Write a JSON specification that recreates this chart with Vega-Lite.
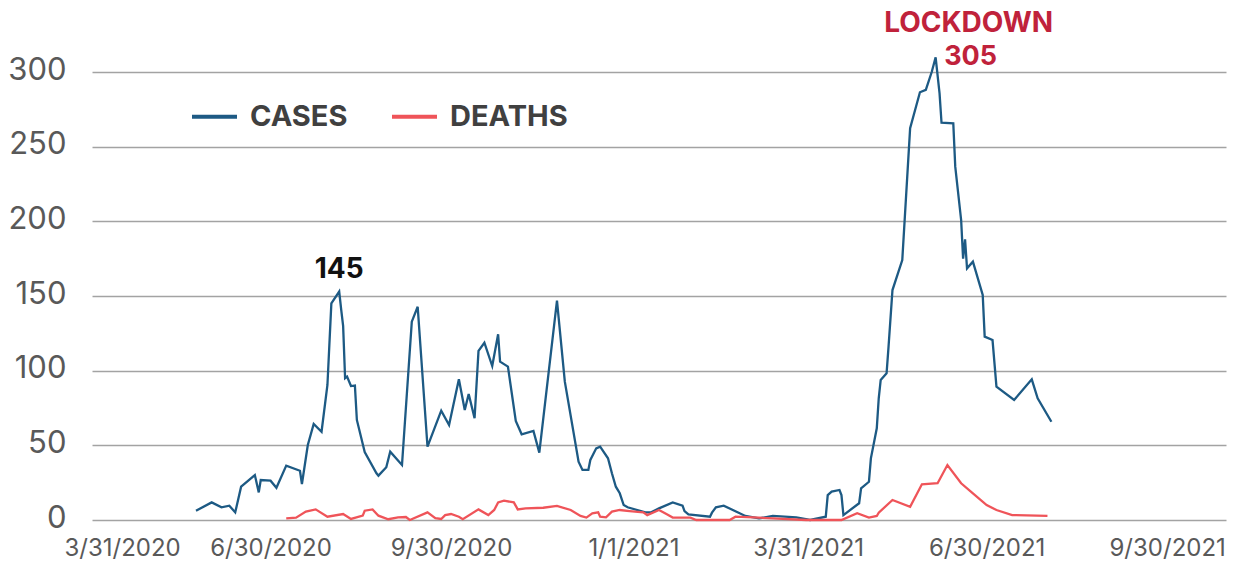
{
  "$schema": "https://vega.github.io/schema/vega-lite/v6.json",
  "width": 1134,
  "height": 448,
  "autosize": "none",
  "padding": {"left": 92, "top": 72, "right": 7, "bottom": 46},
  "background": "white",
  "config": {
    "view": {"stroke": null},
    "font": "Inter",
    "axis": {"labelFont": "Inter", "labelColor": "#595959", "gridColor": "#a3a3a3", "gridWidth": 1.4, "domain": false, "ticks": false, "title": null}
  },
  "datasets": {
    "series": [
      {"date": "2020-05-23", "series": "CASES", "value": 6.2},
      {"date": "2020-05-31", "series": "CASES", "value": 11.8},
      {"date": "2020-06-05", "series": "CASES", "value": 8.5},
      {"date": "2020-06-09", "series": "CASES", "value": 9.6},
      {"date": "2020-06-12", "series": "CASES", "value": 5.1},
      {"date": "2020-06-15", "series": "CASES", "value": 22.3},
      {"date": "2020-06-22", "series": "CASES", "value": 30.1},
      {"date": "2020-06-24", "series": "CASES", "value": 18.5},
      {"date": "2020-06-25", "series": "CASES", "value": 26.8},
      {"date": "2020-06-30", "series": "CASES", "value": 26.3},
      {"date": "2020-07-03", "series": "CASES", "value": 21.6},
      {"date": "2020-07-08", "series": "CASES", "value": 36.4},
      {"date": "2020-07-15", "series": "CASES", "value": 33},
      {"date": "2020-07-16", "series": "CASES", "value": 24.1},
      {"date": "2020-07-19", "series": "CASES", "value": 50.2},
      {"date": "2020-07-22", "series": "CASES", "value": 64.3},
      {"date": "2020-07-26", "series": "CASES", "value": 59.1},
      {"date": "2020-07-29", "series": "CASES", "value": 90.4},
      {"date": "2020-07-31", "series": "CASES", "value": 145},
      {"date": "2020-08-04", "series": "CASES", "value": 153},
      {"date": "2020-08-05", "series": "CASES", "value": 141},
      {"date": "2020-08-06", "series": "CASES", "value": 130},
      {"date": "2020-08-07", "series": "CASES", "value": 95},
      {"date": "2020-08-08", "series": "CASES", "value": 96},
      {"date": "2020-08-10", "series": "CASES", "value": 89.7},
      {"date": "2020-08-12", "series": "CASES", "value": 90},
      {"date": "2020-08-13", "series": "CASES", "value": 67},
      {"date": "2020-08-17", "series": "CASES", "value": 45.5},
      {"date": "2020-08-23", "series": "CASES", "value": 31.3},
      {"date": "2020-08-24", "series": "CASES", "value": 29.7},
      {"date": "2020-08-28", "series": "CASES", "value": 35.3},
      {"date": "2020-08-30", "series": "CASES", "value": 45.7},
      {"date": "2020-09-05", "series": "CASES", "value": 36.8},
      {"date": "2020-09-10", "series": "CASES", "value": 132.8},
      {"date": "2020-09-13", "series": "CASES", "value": 142.8},
      {"date": "2020-09-18", "series": "CASES", "value": 49.1},
      {"date": "2020-09-25", "series": "CASES", "value": 73.2},
      {"date": "2020-09-29", "series": "CASES", "value": 63.6},
      {"date": "2020-10-04", "series": "CASES", "value": 94.2},
      {"date": "2020-10-07", "series": "CASES", "value": 73.7},
      {"date": "2020-10-09", "series": "CASES", "value": 84.4},
      {"date": "2020-10-12", "series": "CASES", "value": 68.1},
      {"date": "2020-10-14", "series": "CASES", "value": 113.2},
      {"date": "2020-10-17", "series": "CASES", "value": 118.7},
      {"date": "2020-10-21", "series": "CASES", "value": 103.1},
      {"date": "2020-10-24", "series": "CASES", "value": 124.4},
      {"date": "2020-10-25", "series": "CASES", "value": 106},
      {"date": "2020-10-29", "series": "CASES", "value": 102.7},
      {"date": "2020-11-02", "series": "CASES", "value": 66.3},
      {"date": "2020-11-05", "series": "CASES", "value": 57.4},
      {"date": "2020-11-11", "series": "CASES", "value": 59.6},
      {"date": "2020-11-14", "series": "CASES", "value": 45.1},
      {"date": "2020-11-23", "series": "CASES", "value": 146.9},
      {"date": "2020-11-27", "series": "CASES", "value": 92.6},
      {"date": "2020-12-04", "series": "CASES", "value": 39},
      {"date": "2020-12-06", "series": "CASES", "value": 33.5},
      {"date": "2020-12-09", "series": "CASES", "value": 33.5},
      {"date": "2020-12-10", "series": "CASES", "value": 40.2},
      {"date": "2020-12-13", "series": "CASES", "value": 48},
      {"date": "2020-12-15", "series": "CASES", "value": 49.1},
      {"date": "2020-12-19", "series": "CASES", "value": 41.3},
      {"date": "2020-12-21", "series": "CASES", "value": 31.3},
      {"date": "2020-12-23", "series": "CASES", "value": 22.3},
      {"date": "2020-12-25", "series": "CASES", "value": 17.9},
      {"date": "2020-12-27", "series": "CASES", "value": 10},
      {"date": "2020-12-29", "series": "CASES", "value": 8.5},
      {"date": "2021-01-07", "series": "CASES", "value": 5.1},
      {"date": "2021-01-10", "series": "CASES", "value": 5.1},
      {"date": "2021-01-14", "series": "CASES", "value": 7.8},
      {"date": "2021-01-21", "series": "CASES", "value": 11.8},
      {"date": "2021-01-26", "series": "CASES", "value": 9.6},
      {"date": "2021-01-27", "series": "CASES", "value": 6},
      {"date": "2021-01-29", "series": "CASES", "value": 3.8},
      {"date": "2021-02-09", "series": "CASES", "value": 2.2},
      {"date": "2021-02-10", "series": "CASES", "value": 4.9},
      {"date": "2021-02-12", "series": "CASES", "value": 8.5},
      {"date": "2021-02-16", "series": "CASES", "value": 9.6},
      {"date": "2021-02-27", "series": "CASES", "value": 2.7},
      {"date": "2021-03-06", "series": "CASES", "value": 1.1},
      {"date": "2021-03-13", "series": "CASES", "value": 2.7},
      {"date": "2021-03-25", "series": "CASES", "value": 1.8},
      {"date": "2021-04-01", "series": "CASES", "value": 0},
      {"date": "2021-04-09", "series": "CASES", "value": 2.2},
      {"date": "2021-04-10", "series": "CASES", "value": 16.7},
      {"date": "2021-04-12", "series": "CASES", "value": 19},
      {"date": "2021-04-16", "series": "CASES", "value": 20.1},
      {"date": "2021-04-17", "series": "CASES", "value": 16.7},
      {"date": "2021-04-18", "series": "CASES", "value": 3.3},
      {"date": "2021-04-26", "series": "CASES", "value": 11.2},
      {"date": "2021-04-27", "series": "CASES", "value": 21.2},
      {"date": "2021-05-01", "series": "CASES", "value": 25.6},
      {"date": "2021-05-02", "series": "CASES", "value": 41.3},
      {"date": "2021-05-05", "series": "CASES", "value": 61.4},
      {"date": "2021-05-06", "series": "CASES", "value": 81.5},
      {"date": "2021-05-07", "series": "CASES", "value": 93.8},
      {"date": "2021-05-10", "series": "CASES", "value": 98.2},
      {"date": "2021-05-11", "series": "CASES", "value": 116.1},
      {"date": "2021-05-13", "series": "CASES", "value": 154},
      {"date": "2021-05-18", "series": "CASES", "value": 174.1},
      {"date": "2021-05-22", "series": "CASES", "value": 262.3},
      {"date": "2021-05-27", "series": "CASES", "value": 286.4},
      {"date": "2021-05-30", "series": "CASES", "value": 288},
      {"date": "2021-06-02", "series": "CASES", "value": 300},
      {"date": "2021-06-04", "series": "CASES", "value": 309.8},
      {"date": "2021-06-06", "series": "CASES", "value": 285.7},
      {"date": "2021-06-07", "series": "CASES", "value": 266},
      {"date": "2021-06-13", "series": "CASES", "value": 265.6},
      {"date": "2021-06-14", "series": "CASES", "value": 236.6},
      {"date": "2021-06-17", "series": "CASES", "value": 200.9},
      {"date": "2021-06-18", "series": "CASES", "value": 175},
      {"date": "2021-06-19", "series": "CASES", "value": 188},
      {"date": "2021-06-20", "series": "CASES", "value": 168.5},
      {"date": "2021-06-23", "series": "CASES", "value": 173},
      {"date": "2021-06-28", "series": "CASES", "value": 150.7},
      {"date": "2021-06-29", "series": "CASES", "value": 122.8},
      {"date": "2021-07-03", "series": "CASES", "value": 120.5},
      {"date": "2021-07-05", "series": "CASES", "value": 89.3},
      {"date": "2021-07-14", "series": "CASES", "value": 80.4},
      {"date": "2021-07-23", "series": "CASES", "value": 94.2},
      {"date": "2021-07-26", "series": "CASES", "value": 81.5},
      {"date": "2021-08-02", "series": "CASES", "value": 65.8},
      {"date": "2020-07-08", "series": "DEATHS", "value": 1.1},
      {"date": "2020-07-13", "series": "DEATHS", "value": 1.6},
      {"date": "2020-07-18", "series": "DEATHS", "value": 5.6},
      {"date": "2020-07-23", "series": "DEATHS", "value": 7.1},
      {"date": "2020-07-29", "series": "DEATHS", "value": 2.2},
      {"date": "2020-08-06", "series": "DEATHS", "value": 4},
      {"date": "2020-08-10", "series": "DEATHS", "value": 0.7},
      {"date": "2020-08-16", "series": "DEATHS", "value": 2.9},
      {"date": "2020-08-17", "series": "DEATHS", "value": 6.2},
      {"date": "2020-08-21", "series": "DEATHS", "value": 7.1},
      {"date": "2020-08-24", "series": "DEATHS", "value": 2.9},
      {"date": "2020-08-29", "series": "DEATHS", "value": 0.5},
      {"date": "2020-09-03", "series": "DEATHS", "value": 1.8},
      {"date": "2020-09-07", "series": "DEATHS", "value": 2},
      {"date": "2020-09-09", "series": "DEATHS", "value": 0},
      {"date": "2020-09-18", "series": "DEATHS", "value": 5.1},
      {"date": "2020-09-22", "series": "DEATHS", "value": 1.3},
      {"date": "2020-09-25", "series": "DEATHS", "value": 0.7},
      {"date": "2020-09-27", "series": "DEATHS", "value": 3.3},
      {"date": "2020-09-30", "series": "DEATHS", "value": 4},
      {"date": "2020-10-04", "series": "DEATHS", "value": 2.2},
      {"date": "2020-10-06", "series": "DEATHS", "value": 0.5},
      {"date": "2020-10-14", "series": "DEATHS", "value": 7.1},
      {"date": "2020-10-19", "series": "DEATHS", "value": 3.3},
      {"date": "2020-10-22", "series": "DEATHS", "value": 6.7},
      {"date": "2020-10-24", "series": "DEATHS", "value": 11.8},
      {"date": "2020-10-27", "series": "DEATHS", "value": 12.9},
      {"date": "2020-11-01", "series": "DEATHS", "value": 11.8},
      {"date": "2020-11-03", "series": "DEATHS", "value": 7.1},
      {"date": "2020-11-07", "series": "DEATHS", "value": 7.8},
      {"date": "2020-11-16", "series": "DEATHS", "value": 8.2},
      {"date": "2020-11-23", "series": "DEATHS", "value": 9.4},
      {"date": "2020-11-30", "series": "DEATHS", "value": 6.7},
      {"date": "2020-12-05", "series": "DEATHS", "value": 2.7},
      {"date": "2020-12-08", "series": "DEATHS", "value": 1.6},
      {"date": "2020-12-11", "series": "DEATHS", "value": 4.5},
      {"date": "2020-12-14", "series": "DEATHS", "value": 5.1},
      {"date": "2020-12-15", "series": "DEATHS", "value": 2.2},
      {"date": "2020-12-18", "series": "DEATHS", "value": 1.8},
      {"date": "2020-12-21", "series": "DEATHS", "value": 5.6},
      {"date": "2020-12-25", "series": "DEATHS", "value": 6.7},
      {"date": "2020-12-30", "series": "DEATHS", "value": 6},
      {"date": "2021-01-06", "series": "DEATHS", "value": 5.1},
      {"date": "2021-01-08", "series": "DEATHS", "value": 3.3},
      {"date": "2021-01-14", "series": "DEATHS", "value": 6.7},
      {"date": "2021-01-18", "series": "DEATHS", "value": 3.8},
      {"date": "2021-01-21", "series": "DEATHS", "value": 1.6},
      {"date": "2021-01-30", "series": "DEATHS", "value": 1.6},
      {"date": "2021-02-02", "series": "DEATHS", "value": 0},
      {"date": "2021-02-19", "series": "DEATHS", "value": 0},
      {"date": "2021-02-22", "series": "DEATHS", "value": 2.2},
      {"date": "2021-03-03", "series": "DEATHS", "value": 1.8},
      {"date": "2021-03-13", "series": "DEATHS", "value": 1.1},
      {"date": "2021-03-30", "series": "DEATHS", "value": 0},
      {"date": "2021-04-17", "series": "DEATHS", "value": 0},
      {"date": "2021-04-25", "series": "DEATHS", "value": 4.5},
      {"date": "2021-05-01", "series": "DEATHS", "value": 1.6},
      {"date": "2021-05-05", "series": "DEATHS", "value": 2.7},
      {"date": "2021-05-06", "series": "DEATHS", "value": 4.9},
      {"date": "2021-05-13", "series": "DEATHS", "value": 13.4},
      {"date": "2021-05-22", "series": "DEATHS", "value": 8.9},
      {"date": "2021-05-28", "series": "DEATHS", "value": 23.9},
      {"date": "2021-06-05", "series": "DEATHS", "value": 24.6},
      {"date": "2021-06-10", "series": "DEATHS", "value": 36.8},
      {"date": "2021-06-17", "series": "DEATHS", "value": 24.6},
      {"date": "2021-06-23", "series": "DEATHS", "value": 17.9},
      {"date": "2021-06-30", "series": "DEATHS", "value": 10},
      {"date": "2021-07-05", "series": "DEATHS", "value": 6.7},
      {"date": "2021-07-13", "series": "DEATHS", "value": 3.3},
      {"date": "2021-07-31", "series": "DEATHS", "value": 2.7}
    ],
    "notes": [
      {"date": "2020-08-04", "value": 153, "label": "145"},
      {"date": "2021-06-04", "value": 309.8, "label": "LOCKDOWN"},
      {"date": "2021-06-04", "value": 309.8, "label": "305"}
    ]
  },
  "layer": [
    {
      "data": {"name": "series"},
      "mark": {"type": "line", "strokeWidth": 2.3, "interpolate": "linear"},
      "encoding": {
        "x": {
          "field": "date", "type": "temporal",
          "scale": {"type": "utc", "domain": [{"year": 2020, "month": 3, "date": 31, "utc": true}, {"year": 2021, "month": 10, "date": 30, "utc": true}]},
          "axis": {
            "values": [
              {"year": 2020, "month": 3, "date": 31, "utc": true},
              {"year": 2020, "month": 6, "date": 30, "utc": true},
              {"year": 2020, "month": 9, "date": 30, "utc": true},
              {"year": 2021, "month": 1, "date": 1, "utc": true},
              {"year": 2021, "month": 3, "date": 31, "utc": true},
              {"year": 2021, "month": 6, "date": 30, "utc": true},
              {"year": 2021, "month": 9, "date": 30, "utc": true}
            ],
            "labelExpr": "utcFormat(datum.value, '%-m/%-d/%Y')",
            "grid": false,
            "labelFontSize": 24,
            "labelPadding": 16,
            "labelFlush": true,
            "labelFlushOffset": 28,
            "labelBaseline": "top"
          }
        },
        "y": {
          "field": "value", "type": "quantitative",
          "scale": {"domain": [0, 300], "nice": false},
          "axis": {"values": [0, 50, 100, 150, 200, 250, 300], "labelFontSize": 31, "labelPadding": 26, "labelOffset": -2, "grid": true}
        },
        "color": {
          "field": "series", "type": "nominal",
          "scale": {"domain": ["CASES", "DEATHS"], "range": ["#1d5a84", "#ef5459"]},
          "legend": {
            "title": null, "orient": "none", "legendX": 98, "legendY": 20, "direction": "horizontal",
            "symbolType": "stroke", "symbolSize": 2025, "symbolStrokeWidth": 4,
            "labelFont": "Inter", "labelFontSize": 29, "labelFontWeight": "bold", "labelColor": "#404040",
            "labelOffset": 11, "columnPadding": 36, "padding": 0
          }
        }
      }
    },
    {
      "data": {"name": "notes"},
      "transform": [{"filter": "datum.label == '145'"}],
      "mark": {"type": "text", "font": "Inter", "fontSize": 28, "fontWeight": "bold", "color": "#111111", "align": "center", "baseline": "alphabetic", "dy": -14},
      "encoding": {
        "x": {"field": "date", "type": "temporal"},
        "y": {"field": "value", "type": "quantitative"},
        "text": {"field": "label"}
      }
    },
    {
      "data": {"name": "notes"},
      "transform": [{"filter": "datum.label == 'LOCKDOWN'"}],
      "mark": {"type": "text", "font": "Inter", "fontSize": 28, "fontWeight": "bold", "color": "#c0223b", "align": "center", "baseline": "alphabetic", "dx": 33, "dy": -25},
      "encoding": {
        "x": {"field": "date", "type": "temporal"},
        "y": {"field": "value", "type": "quantitative"},
        "text": {"field": "label"}
      }
    },
    {
      "data": {"name": "notes"},
      "transform": [{"filter": "datum.label == '305'"}],
      "mark": {"type": "text", "font": "Inter", "fontSize": 27, "fontWeight": "bold", "color": "#c0223b", "align": "center", "baseline": "alphabetic", "dx": 35, "dy": 8},
      "encoding": {
        "x": {"field": "date", "type": "temporal"},
        "y": {"field": "value", "type": "quantitative"},
        "text": {"field": "label"}
      }
    }
  ]
}
